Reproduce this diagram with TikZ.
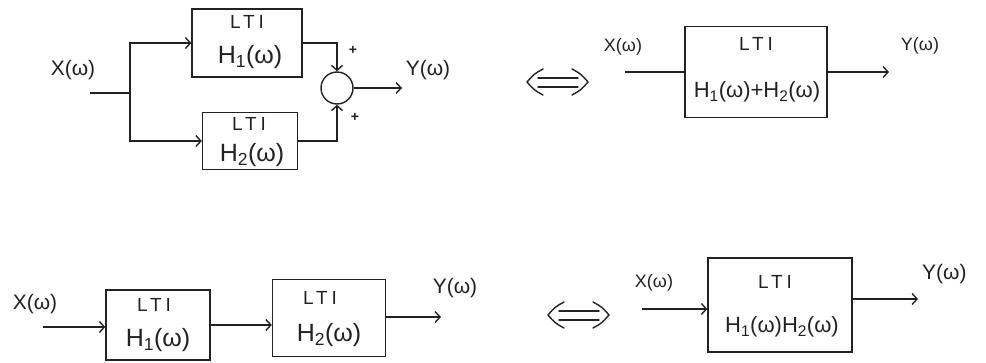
\documentclass[tikz,border=0pt]{standalone}
\usepackage{fontspec}
\setmainfont{Liberation Sans}
\usetikzlibrary{arrows.meta}
\definecolor{inkc}{HTML}{222222}
\begin{document}
\begin{tikzpicture}[x=1pt,y=-1pt,
  ink/.style={draw=inkc, line width=1.4pt},
  blk/.style={ink, rectangle, inner sep=0pt},
  arr/.style={ink, -{Straight Barb[length=5pt,width=11pt,line width=1.4pt]}},
  lbl/.style={inner sep=0pt, text=inkc},
  sig/.style={lbl, font=\fontsize{21}{23}\selectfont},
  sigs/.style={lbl, font=\fontsize{18}{20}\selectfont},
  lti/.style={lbl, font=\fontsize{19}{21}\selectfont\addfontfeatures{LetterSpace=20}},
  hfun/.style={lbl, font=\fontsize{25}{27}\selectfont},
  hfuns/.style={lbl, font=\fontsize{22}{24}\selectfont},
  pls/.style={lbl, font=\fontsize{14}{16}\selectfont\bfseries},
  eqv/.style={draw=inkc, line width=1.4pt, line cap=round, line join=round}
]
\clip (0,0) rectangle (986,362);
\useasboundingbox (0,0) rectangle (986,362);

% ---------- top left: parallel ----------
\node[blk, minimum width=110pt, minimum height=68pt] (H1) at (247,43) {};
\node[blk, minimum width=95pt, minimum height=57pt] (H2) at (250,141) {};
\node[lti] (t1) at (247,22) {LTI};
\node[hfun] (h1) at (250,57) {H\textsubscript{1}(ω)};
\node[lti] (t2) at (249,124) {LTI};
\node[hfun] (h2) at (252,155) {H\textsubscript{2}(ω)};
\node[ink, circle, minimum size=32pt, inner sep=0pt] (S) at (337,88) {};
\coordinate (in1) at (90,93);
\coordinate (j1) at (130,93);
\coordinate (o1) at (402,88);
\draw[ink] (in1) -- (j1);
\draw[arr] (j1) |- (H1.west);
\draw[arr] (j1) |- (H2.west);
\draw[arr] (H1.east) -| (S.north);
\draw[arr] (H2.east) -| (S.south);
\draw[arr] (S.east) -- (o1);
\node[sig] (x1) at (73,70) {X(ω)};
\node[sig] (y1) at (428,70) {Y(ω)};
\node[pls] (p1) at (353,50) {+};
\node[pls] (p2) at (355,117) {+};

% ---------- top right: sum ----------
\draw[eqv] (538,78) -- (578,78) (538,87) -- (578,87);
\draw[eqv] (543,69) .. controls (534,74) .. (527,82) .. controls (534,90) .. (543,95);
\draw[eqv] (572,69) .. controls (581,74) .. (588,82) .. controls (581,90) .. (572,95);
\node[blk, minimum width=142pt, minimum height=91pt] (B) at (756,72) {};
\node[lti] (t3) at (756,44) {LTI};
\node[hfuns] (h3) at (757,92) {H\textsubscript{1}(ω)+H\textsubscript{2}(ω)};
\coordinate (in2) at (625,72);
\coordinate (o2) at (889,72);
\draw[ink] (in2) -- (B.west);
\draw[arr] (B.east) -- (o2);
\node[sigs] (x2) at (623,47) {X(ω)};
\node[sigs] (y2) at (920,46) {Y(ω)};

% ---------- bottom left: cascade ----------
\node[blk, minimum width=104pt, minimum height=70pt] (C1) at (158,325) {};
\node[blk, minimum width=113pt, minimum height=77pt] (C2) at (329,318) {};
\node[lti] (t4) at (154,305) {LTI};
\node[hfun] (h4) at (158,340) {H\textsubscript{1}(ω)};
\node[lti] (t5) at (320,298) {LTI};
\node[hfun] (h5) at (329,335) {H\textsubscript{2}(ω)};
\coordinate (in3) at (43,327);
\coordinate (o3) at (441,317);
\draw[arr] (in3) -- (in3 -| C1.west);
\draw[arr] (C1.east) -- (C1.east -| C2.west);
\draw[arr] (C2.east |- o3) -- (o3);
\node[sig] (x3) at (35,304) {X(ω)};
\node[sig] (y3) at (455,288) {Y(ω)};

% ---------- bottom right: product ----------
\draw[eqv] (559,311) -- (599,311) (559,320) -- (599,320);
\draw[eqv] (564,302) .. controls (555,307) .. (548,315) .. controls (555,323) .. (564,328);
\draw[eqv] (593,302) .. controls (602,307) .. (609,315) .. controls (602,323) .. (593,328);
\node[blk, minimum width=144pt, minimum height=94pt] (D) at (780,305) {};
\node[lti] (t6) at (775,282) {LTI};
\node[hfuns] (h6) at (782,327) {H\textsubscript{1}(ω)H\textsubscript{2}(ω)};
\coordinate (in4) at (642,309);
\coordinate (o4) at (918,299);
\draw[arr] (in4) -- (in4 -| D.west);
\draw[arr] (D.east |- o4) -- (o4);
\node[sigs] (x4) at (654,283) {X(ω)};
\node[sig, anchor=west] (y4) at (922,274) {Y(ω)};
\end{tikzpicture}
\end{document}
